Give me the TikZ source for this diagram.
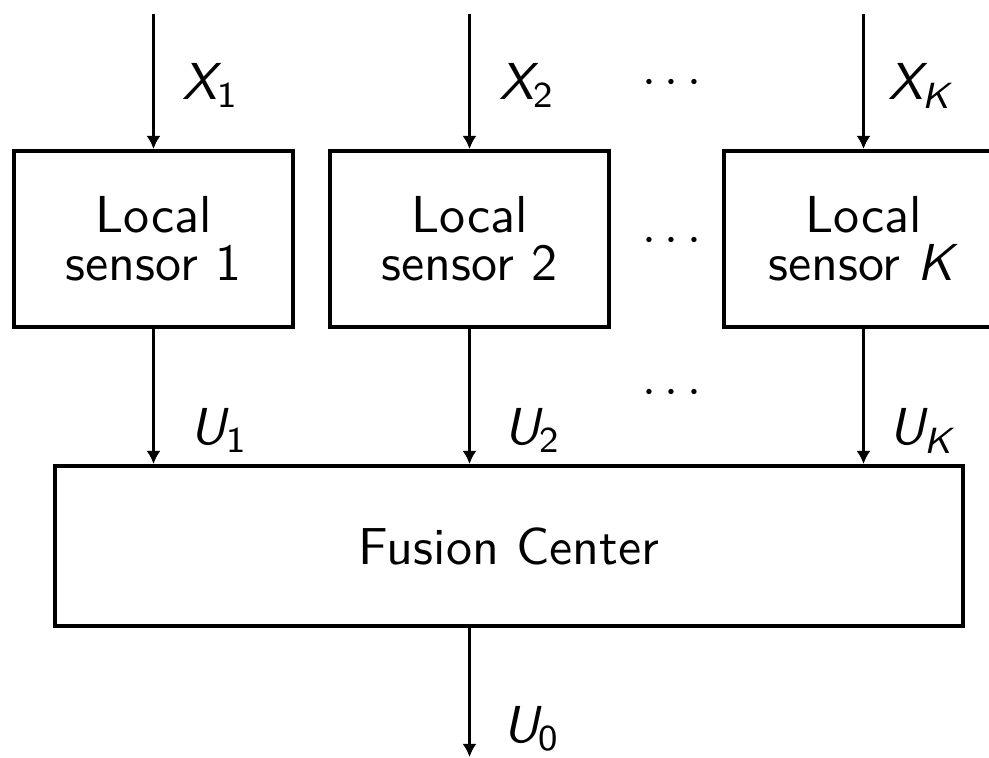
\documentclass[tikz,border=0pt]{standalone}
\usetikzlibrary{arrows.meta}
\newcommand{\lbl}[2]{{\itshape #1}\textsubscript{#2}}
\begin{document}
\begin{tikzpicture}[x=0.2pt,y=-0.2pt,
  every node/.style={font=\sffamily\fontsize{10.4}{9.6}\selectfont},
  box/.style={draw, line width=0.8pt, align=center, inner sep=0pt},
  sensorbox/.style={box, minimum width=55.8pt, minimum height=35.2pt},
  flow/.style={line width=0.7pt, -{Latex[length=2.6pt,width=2.8pt]}},
  lab/.style={anchor=base west, inner sep=0pt},
  dotsnode/.style={anchor=base, inner sep=0pt}]
\useasboundingbox (0,0) rectangle (989,758);
\clip (0,0) rectangle (989,758);
% sensors
\node[sensorbox] (s1) at (153.5,239) {Local\\sensor 1};
\node[sensorbox] (s2) at (469.5,239) {Local\\sensor 2};
\node[sensorbox] (s3) at (863.5,239) {Local\\sensor \textit{K}};
% fusion center
\node[box, minimum width=181.6pt, minimum height=32pt] (fc) at (509,546) {Fusion Center};
% inputs
\coordinate (t1) at (153.5,14);
\coordinate (t2) at (469.5,14);
\coordinate (t3) at (863.5,14);
\coordinate (out) at (469.5,757);
\draw[flow] (t1) -- (s1.north);
\draw[flow] (t2) -- (s2.north);
\draw[flow] (t3) -- (s3.north);
\draw[flow] (s1.south) -- (s1.south |- fc.north);
\draw[flow] (s2.south) -- (s2.south |- fc.north);
\draw[flow] (s3.south) -- (s3.south |- fc.north);
\draw[flow] (fc.south -| out) -- (out);
% labels
\node[lab] (x1) at (182,100) {\lbl{X}{1}};
\node[lab] (x2) at (498,100) {\lbl{X}{2}};
\node[lab] (xk) at (887,100) {\lbl{X}{\itshape K}};
\node[lab] (u1) at (190,445) {\lbl{U}{1}};
\node[lab] (u2) at (503,445) {\lbl{U}{2}};
\node[lab] (uk) at (888,445) {\lbl{U}{\itshape K}};
\node[lab] (u0) at (502,743) {\lbl{U}{0}};
% dots
\node[dotsnode] (d1) at (672,95) {$\cdots$};
\node[dotsnode] (d2) at (672,253) {$\cdots$};
\node[dotsnode] (d3) at (672,405) {$\cdots$};
\end{tikzpicture}
\end{document}
